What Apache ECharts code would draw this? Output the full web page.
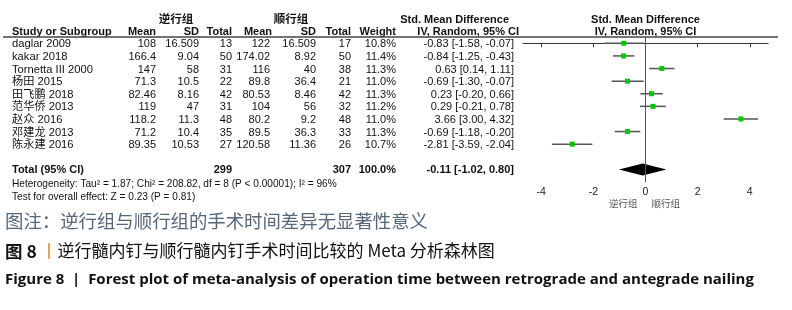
<!DOCTYPE html>
<html>
<head>
<meta charset="utf-8">
<script src="https://cdn.jsdelivr.net/npm/echarts@6/dist/echarts.min.js"></script>
<style>
html,body{margin:0;padding:0;background:#fff}
#main{width:792px;height:310px}
</style>
</head>
<body>
<div id="main"></div>
<script>
// study rows
const studies = ['daglar 2009','kakar 2018','Tornetta III 2000','杨田 2015','田飞鹏 2018','范华侨 2013','赵众 2016','邓建龙 2013','陈永建 2016'];
// 逆行组
const retroMean = ['108','166.4','147','71.3','82.46','119','118.2','71.2','89.35'];
const retroSD = ['16.509','9.04','58','10.5','8.16','47','11.3','10.4','10.53'];
const retroN = [13,50,31,22,42,31,48,35,27];
// 顺行组
const anteMean = ['122','174.02','116','89.8','80.53','104','80.2','89.5','120.58'];
const anteSD = ['16.509','8.92','40','36.4','8.46','56','9.2','36.3','11.36'];
const anteN = [17,50,38,21,42,32,48,33,26];
const weight = [10.8,11.4,11.3,11.0,11.3,11.2,11.0,11.3,10.7];
// std. mean difference + 95% CI
const smd = [-0.83,-0.84,0.63,-0.69,0.23,0.29,3.66,-0.69,-2.81];
const ciLow = [-1.58,-1.25,0.14,-1.30,-0.20,-0.21,3.00,-1.18,-3.59];
const ciHigh = [-0.07,-0.43,1.11,-0.07,0.66,0.78,4.32,-0.20,-2.04];
const total = {smd:-0.11, low:-1.02, high:0.80, retroN:299, anteN:307};
const xTicks = [-4,-2,0,2,4];
const totalRow = 10;

const ciText = (m,l,h) => m.toFixed(2)+' ['+l.toFixed(2)+', '+h.toFixed(2)+']';

function ciItem(params, api) {
  const lo = api.coord([api.value(0), api.value(3)]);
  const hi = api.coord([api.value(1), api.value(3)]);
  const c = api.coord([api.value(2), api.value(3)]);
  return {type:'group', children:[
    {type:'line', shape:{x1:lo[0],y1:lo[1],x2:hi[0],y2:hi[1]}, style:{stroke:'#555',lineWidth:1.5}},
    {type:'rect', shape:{x:c[0]-2.5,y:c[1]-2.5,width:5,height:5}, style:{fill:'#00c800'}}
  ]};
}

function diamondItem(params, api) {
  const lo = api.coord([api.value(0), api.value(3)]);
  const hi = api.coord([api.value(1), api.value(3)]);
  const c = api.coord([api.value(2), api.value(3)]);
  return {type:'polygon', shape:{points:[[lo[0],lo[1]],[c[0],c[1]-6],[hi[0],hi[1]],[c[0],c[1]+6]]}, style:{fill:'#000'}};
}

const chart = echarts.init(document.getElementById('main'));
chart.setOption({
  animation:false,
  grid:{left:523, width:245, top:37, height:145},
  xAxis:{
    type:'value', min:-4.7, max:4.7,
    splitLine:{show:false},
    axisLine:{lineStyle:{color:'#333',width:1.2}},
    axisTick:{customValues:xTicks, length:4, lineStyle:{color:'#333'}},
    axisLabel:{customValues:xTicks, fontSize:10.5, color:'#222', margin:5, fontFamily:'Liberation Sans'}
  },
  yAxis:{type:'value', min:-0.5, max:11, inverse:true, show:false},
  series:[
    {type:'line', data:[[0,-0.5],[0,11]], symbol:'none', silent:true, lineStyle:{color:'#555',width:1}},
    {type:'custom', renderItem:ciItem, data:smd.map((v,i)=>[ciLow[i],ciHigh[i],v,i]), encode:{x:[0,1,2],y:3}},
    {type:'custom', renderItem:diamondItem, data:[[total.low,total.high,total.smd,totalRow]], encode:{x:[0,1,2],y:3}}
  ]
});

const rowY = i => chart.convertToPixel({gridIndex:0},[0,i])[1] + 1;
const zeroX = chart.convertToPixel({gridIndex:0},[0,0])[0];
const AR = 'Liberation Sans, Arial, Noto Sans CJK SC';
const g = [];
function txt(x, y, text, opt) {
  opt = opt || {};
  g.push({type:'text', x:x, y:y, silent:true, style:{
    text:text, fontSize:opt.size||11, fontFamily:opt.font||AR, fontWeight:opt.bold?'bold':'normal',
    fill:opt.color||'#111', align:opt.align||'left', verticalAlign:'middle', rich:opt.rich
  }});
}

// headers
txt(176, 19, '逆行组', {align:'center', bold:true, font:'Noto Sans CJK SC', size:11.5});
txt(291, 19, '顺行组', {align:'center', bold:true, font:'Noto Sans CJK SC', size:11.5});
txt(509, 20, 'Std. Mean Difference', {align:'right', bold:true});
txt(zeroX, 20, 'Std. Mean Difference', {align:'center', bold:true});
const hy = 32;
txt(12, hy, 'Study or Subgroup', {bold:true});
txt(156, hy, 'Mean', {align:'right', bold:true});
txt(199, hy, 'SD', {align:'right', bold:true});
txt(232, hy, 'Total', {align:'right', bold:true});
txt(272, hy, 'Mean', {align:'right', bold:true});
txt(316, hy, 'SD', {align:'right', bold:true});
txt(351, hy, 'Total', {align:'right', bold:true});
txt(396, hy, 'Weight', {align:'right', bold:true});
txt(519, hy, 'IV, Random, 95% CI', {align:'right', bold:true});
txt(zeroX, hy, 'IV, Random, 95% CI', {align:'center', bold:true});
g.push({type:'line', silent:true, shape:{x1:3,y1:37,x2:778,y2:37}, style:{stroke:'#444',lineWidth:1.5}});

// study rows
studies.forEach((s,i) => {
  const y = rowY(i);
  txt(12, y, s, {size:11.2});
  txt(156, y, retroMean[i], {align:'right'});
  txt(199, y, retroSD[i], {align:'right'});
  txt(232, y, String(retroN[i]), {align:'right'});
  txt(270, y, anteMean[i], {align:'right'});
  txt(316, y, anteSD[i], {align:'right'});
  txt(351, y, String(anteN[i]), {align:'right'});
  txt(396, y, weight[i].toFixed(1)+'%', {align:'right'});
  txt(514, y, ciText(smd[i],ciLow[i],ciHigh[i]), {align:'right'});
});

// total
const ty = rowY(totalRow);
txt(12, ty, 'Total (95% CI)', {bold:true});
txt(232, ty, String(total.retroN), {align:'right', bold:true});
txt(351, ty, String(total.anteN), {align:'right', bold:true});
txt(396, ty, '100.0%', {align:'right', bold:true});
txt(514, ty, ciText(total.smd,total.low,total.high), {align:'right', bold:true});
txt(12, ty+14, 'Heterogeneity: Tau² = 1.87; Chi² = 208.82, df = 8 (P < 0.00001); I² = 96%', {size:10.1});
txt(12, ty+27, 'Test for overall effect: Z = 0.23 (P = 0.81)', {size:10.1});

// favours
txt(zeroX-8, 203, '逆行组', {align:'right', size:9.5, color:'#555', font:'Noto Sans CJK SC'});
txt(zeroX+6, 203, '顺行组', {align:'left', size:9.5, color:'#555', font:'Noto Sans CJK SC'});

// captions
txt(5, 221, '图注：逆行组与顺行组的手术时间差异无显著性意义', {size:18.4, color:'#56677a', font:'Noto Sans CJK SC'});
txt(5, 251, '{b|图 8} {o|丨}逆行髓内钉与顺行髓内钉手术时间比较的 Meta 分析森林图', {size:17, color:'#111', font:'Noto Sans CJK SC',
  rich:{b:{fontSize:17.5, fontWeight:'bold', fontFamily:'Noto Sans CJK SC', fill:'#111'}, o:{fontSize:17, fill:'#d9822b', fontFamily:'Noto Sans CJK SC'}}});
txt(5, 280, 'Figure 8  |  Forest plot of meta-analysis of operation time between retrograde and antegrade nailing', {size:15, bold:true, font:'Open Sans', color:'#111'});

chart.setOption({graphic:g});
</script>
</body>
</html>
